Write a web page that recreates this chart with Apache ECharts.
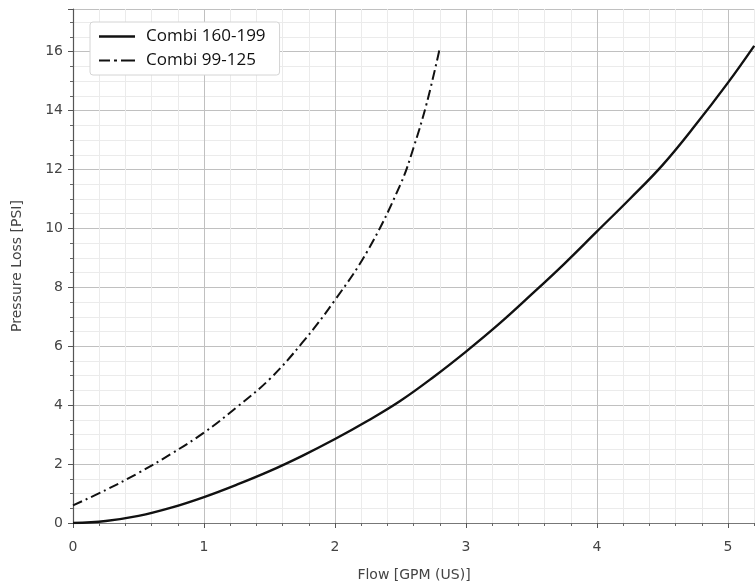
<!DOCTYPE html>
<html>
<head>
<meta charset="utf-8">
<script src="https://cdn.jsdelivr.net/npm/echarts@6/dist/echarts.min.js"></script>
<style>
  html, body { margin: 0; padding: 0; background: #fff; }
  #main { width: 755px; height: 583px; }
</style>
</head>
<body>
<div id="main"></div>
<script>
// values
const flowA = [0, 0.25, 0.5, 0.75, 1, 1.25, 1.5, 1.75, 2, 2.25, 2.5, 2.75, 3, 3.25, 3.5, 3.75, 4, 4.25, 4.5, 4.75, 5, 5.2];
const lossA = [0, 0.07, 0.24, 0.52, 0.88, 1.3, 1.76, 2.28, 2.85, 3.47, 4.15, 4.95, 5.82, 6.75, 7.76, 8.8, 9.9, 11.0, 12.15, 13.5, 14.95, 16.2];
const flowB = [0, 0.25, 0.5, 0.75, 1, 1.25, 1.5, 1.75, 2, 2.25, 2.5, 2.6, 2.7, 2.8];
const lossB = [0.6, 1.12, 1.7, 2.35, 3.07, 3.93, 4.88, 6.12, 7.57, 9.25, 11.5, 12.75, 14.25, 16.12];
const names = ['Combi 160-199', 'Combi 99-125'];

const pairs = (xs, ys) => xs.map((x, i) => [x, ys[i]]);

// legend icons drawn as filled bars: solid and dash-dot
const solidIcon = 'path://M0,0 H36 V2.4 H0 Z';
const dashDotIcon = 'path://M0,0 H11 V2.2 H0 Z M15,0 H18 V2.2 H15 Z M22,0 H36 V2.2 H22 Z';

const myChart = echarts.init(document.getElementById('main'));
myChart.setOption({
    animation: false,
    backgroundColor: '#fff',
    grid: { left: 73, right: 0, top: 9, bottom: 60, containLabel: false, outerBoundsMode: 'none' },
    legend: {
        left: 90, top: 22,
        orient: 'vertical',
        backgroundColor: '#fff',
        borderColor: '#d4d4d4',
        borderWidth: 1,
        borderRadius: 3,
        padding: [6, 14, 6, 9],
        itemGap: 7,
        itemWidth: 36,
        itemHeight: 19,
        symbolKeepAspect: true,
        textStyle: { fontFamily: 'Open Sans', fontSize: 17, color: '#111', padding: [0, 0, 0, 6] },
        data: [
            { name: names[0], icon: solidIcon },
            { name: names[1], icon: dashDotIcon }
        ]
    },
    xAxis: [
        {
            type: 'value',
            min: 0, max: 5.206, interval: 1,
            name: 'Flow [GPM (US)]',
            nameLocation: 'middle', nameGap: 45,
            nameTextStyle: { fontFamily: 'DejaVu Sans', fontSize: 14, color: '#444' },
            axisLine: { show: true, onZero: false, lineStyle: { color: '#555', width: 1.2 } },
            axisTick: { show: true, length: 5, lineStyle: { color: '#555' } },
            minorTick: { show: true, splitNumber: 5, length: 3, lineStyle: { color: '#666' } },
            axisLabel: { showMaxLabel: false, margin: 17, fontFamily: 'DejaVu Sans', fontSize: 14, color: '#444' },
            splitLine: { show: true, lineStyle: { color: '#c0c0c0', width: 1 } },
            minorSplitLine: { show: true, lineStyle: { color: '#ebebeb', width: 1 } }
        },
        {
            type: 'value', position: 'top', min: 0, max: 5.206,
            axisLine: { show: true, lineStyle: { color: '#777', width: 1.2 } },
            axisTick: { show: false }, axisLabel: { show: false }, splitLine: { show: false }
        }
    ],
    yAxis: {
        type: 'value',
        min: 0, max: 17.45, interval: 2,
        name: 'Pressure Loss [PSI]',
        nameLocation: 'middle', nameGap: 49,
        nameTextStyle: { fontFamily: 'DejaVu Sans', fontSize: 14, color: '#444' },
        axisLine: { show: true, onZero: false, lineStyle: { color: '#555', width: 1.2 } },
        axisTick: { show: true, length: 5, lineStyle: { color: '#555' } },
        minorTick: { show: true, splitNumber: 4, length: 3, lineStyle: { color: '#666' } },
        axisLabel: { showMaxLabel: false, margin: 10, fontFamily: 'DejaVu Sans', fontSize: 14, color: '#444' },
        splitLine: { show: true, lineStyle: { color: '#c0c0c0', width: 1 } },
        minorSplitLine: { show: true, lineStyle: { color: '#ebebeb', width: 1 } }
    },
    series: [
        {
            name: names[0],
            type: 'line',
            data: pairs(flowA, lossA),
            smooth: 0.4,
            symbol: 'none',
            lineStyle: { color: '#111', width: 2.4, type: 'solid' },
            itemStyle: { color: '#111' }
        },
        {
            name: names[1],
            type: 'line',
            data: pairs(flowB, lossB),
            smooth: 0.4,
            symbol: 'none',
            lineStyle: { color: '#111', width: 2, type: [10, 4, 2, 4] },
            itemStyle: { color: '#111' }
        }
    ]
});
</script>
</body>
</html>
